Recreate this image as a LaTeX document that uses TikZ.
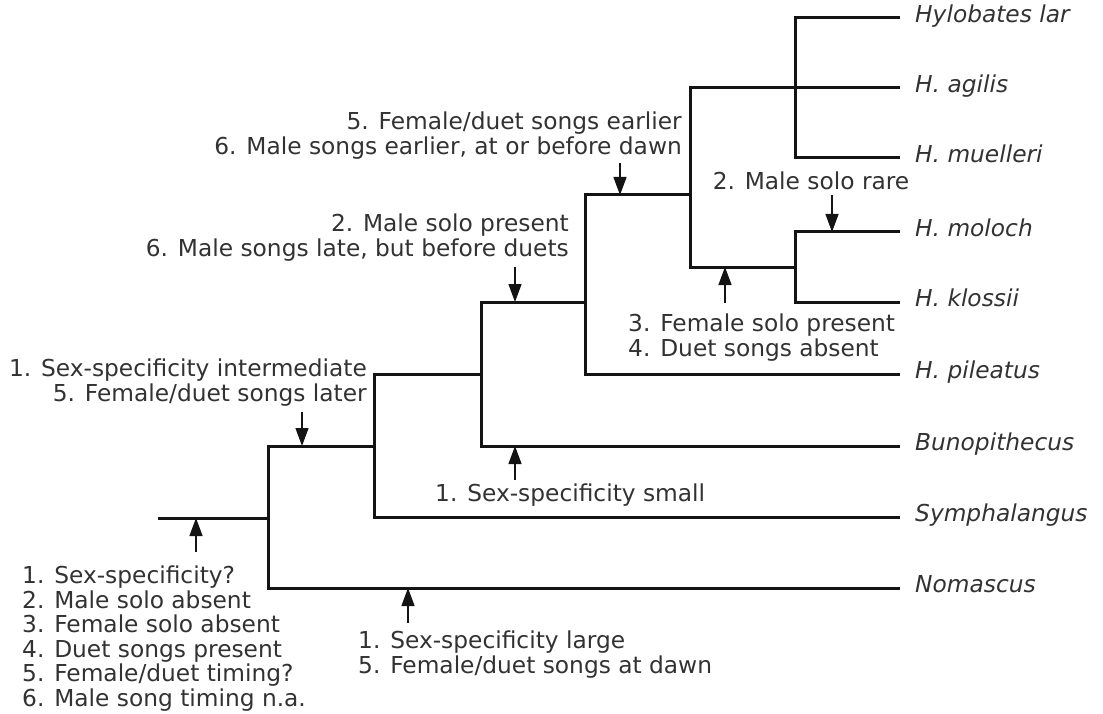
\documentclass[tikz,border=0pt]{standalone}
\usepackage{fontspec}
\setmainfont{DejaVu Sans}
\usetikzlibrary{arrows.meta}
\definecolor{ast}{RGB}{20,20,20}
\definecolor{schrift}{RGB}{50,50,50}

\begin{document}
\begin{tikzpicture}[x=1pt,y=-1pt,
    zweig/.style={ast, line width=3pt},
    merkmal/.style={ast, line width=1.3pt, -{Triangle[width=13pt,length=18pt]}},
    art/.style={anchor=west, inner xsep=15pt, inner ysep=0pt, text=schrift,
        font=\fontsize{23.3pt}{24.5pt}\selectfont\itshape, text height=1.14em, text depth=0.2em},
    notiz/.style={inner sep=0pt, text=schrift, font=\fontsize{23.3pt}{24.5pt}\selectfont}]

    \useasboundingbox (0,0) rectangle (1103,714);

    % Knoten des Baums
    \coordinate (base) at (158,518);
    \coordinate (n1) at (268,518);
    \coordinate (n2) at (374,446);
    \coordinate (n3) at (481,374);
    \coordinate (n4) at (585,302);
    \coordinate (n5) at (690,195);
    \coordinate (n6) at (795,88);
    \coordinate (n7) at (795,267);

    % Arten
    \node[art] (lar) at (900,18) {Hylobates lar};
    \node[art] (agilis) at (900,88) {H. agilis};
    \node[art] (muelleri) at (900,158) {H. muelleri};
    \node[art] (moloch) at (900,232) {H. moloch};
    \node[art] (klossii) at (900,302) {H. klossii};
    \node[art] (pileatus) at (900,374) {H. pileatus};
    \node[art] (buno) at (900,446) {Bunopithecus};
    \node[art] (sympha) at (900,517) {Symphalangus};
    \node[art] (nomascus) at (900,588) {Nomascus};

    % Aeste
    \draw[zweig] (base) -- (n1);
    \draw[zweig] (n1) |- (n2);
    \draw[zweig] (n1) |- (nomascus.west);
    \draw[zweig] (n2) |- (n3);
    \draw[zweig] (n2) |- (sympha.west);
    \draw[zweig] (n3) |- (n4);
    \draw[zweig] (n3) |- (buno.west);
    \draw[zweig] (n4) |- (n5);
    \draw[zweig] (n4) |- (pileatus.west);
    \draw[zweig] (n5) |- (n6);
    \draw[zweig] (n5) |- (n7);
    \draw[zweig] (n6) -- (agilis.west);
    \draw[zweig] (n6) |- (lar.west);
    \draw[zweig] (n6) |- (muelleri.west);
    \draw[zweig] (n7) |- (moloch.west);
    \draw[zweig] (n7) |- (klossii.west);

    % Merkmalspfeile
    \coordinate (t1) at (196,552);
    \coordinate (t2) at (302,412);
    \coordinate (t3) at (408,623);
    \coordinate (t4) at (515,480);
    \coordinate (t5) at (515,267);
    \coordinate (t6) at (620,163);
    \coordinate (t7) at (725,303);
    \coordinate (t8) at (832,195);
    \draw[merkmal] (t1) -- (t1 |- base);
    \draw[merkmal] (t2) -- (t2 |- n2);
    \draw[merkmal] (t3) -- (t3 |- nomascus.west);
    \draw[merkmal] (t4) -- (t4 |- buno.west);
    \draw[merkmal] (t5) -- (t5 |- n4);
    \draw[merkmal] (t6) -- (t6 |- n5);
    \draw[merkmal] (t7) -- (t7 |- n7);
    \draw[merkmal] (t8) -- (t8 |- moloch.west);

    % Beschriftungen
    \node[notiz, anchor=north west, align=left] (m1) at (22,566)
        {1. Sex-specificity?\\2. Male solo absent\\3. Female solo absent\\4. Duet songs present\\5. Female/duet timing?\\6. Male song timing n.a.};
    \node[notiz, anchor=north west, align=left] (m3) at (358,631)
        {1. Sex-specificity large\\5. Female/duet songs at dawn};
    \node[notiz, anchor=north west] (m4) at (435,484) {1. Sex-specificity small};
    \node[notiz, anchor=north east, align=right] (m2) at (367,359)
        {1. Sex-specificity intermediate\\5. Female/duet songs later};
    \node[notiz, anchor=north east, align=right] (m5) at (569,214)
        {2. Male solo present\\6. Male songs late, but before duets};
    \node[notiz, anchor=north east, align=right] (m6) at (682,112)
        {5. Female/duet songs earlier\\6. Male songs earlier, at or before dawn};
    \node[notiz, anchor=north] (m8) at (811,172) {2. Male solo rare};
    \node[notiz, anchor=north west, align=left] (m7) at (628,314)
        {3. Female solo present\\4. Duet songs absent};

\end{tikzpicture}
\end{document}
